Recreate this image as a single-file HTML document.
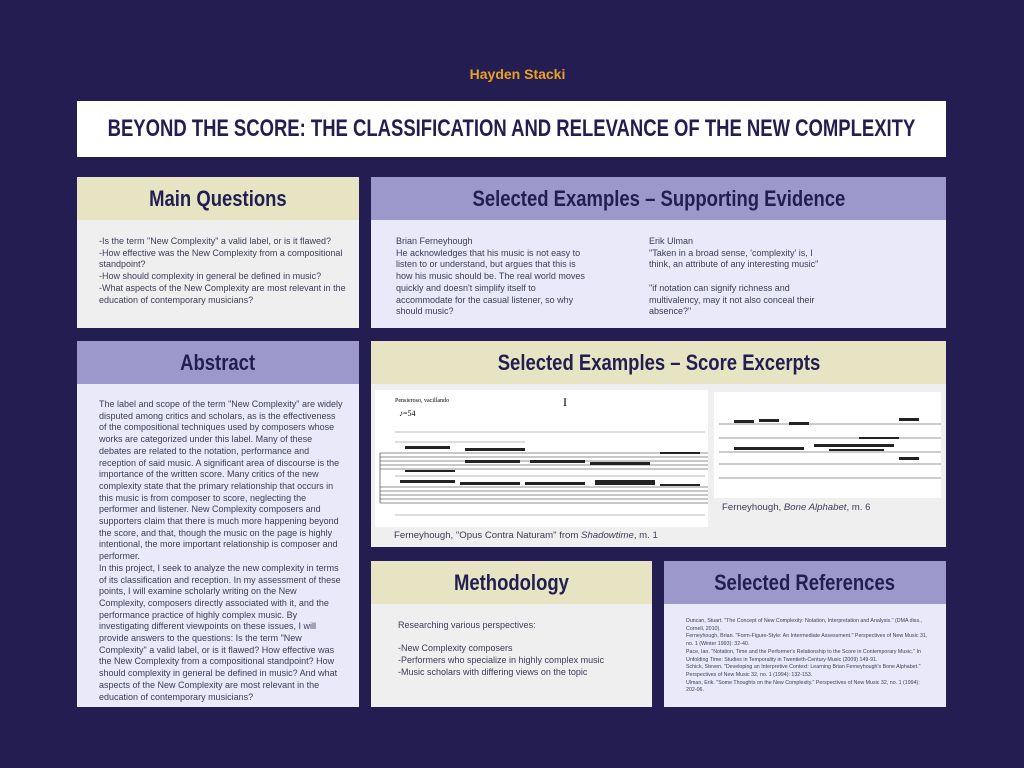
<!DOCTYPE html>
<html><head><meta charset="utf-8"><style>
*{margin:0;padding:0;box-sizing:border-box}
body{width:1024px;height:768px;background:#231d52;position:relative;overflow:hidden;font-family:"Liberation Sans",sans-serif;color:#3a3a55}
.a{position:absolute}
.h{position:absolute;display:flex;align-items:center;justify-content:center;font-family:"Liberation Sans",sans-serif;font-weight:bold;color:#231d52;font-size:22px;white-space:nowrap}
.h span{display:inline-block;transform:scaleX(0.84)}
.beige{background:#e6e4c3}.purp{background:#9d98cc}
.gray{background:#efefef}.lav{background:#e9e9fa}
.t{position:absolute;font-size:9px;line-height:11.7px;color:#3c3c58}
</style></head><body>
<div class="a" style="left:0;top:66px;width:1035px;text-align:center;color:#e9a21d;font-weight:bold;font-size:14px">Hayden Stacki</div>
<div class="h" style="left:77px;top:101px;width:869px;height:56px;background:#fff;font-size:24px"><span style="transform:scaleX(0.77)">BEYOND THE SCORE: THE CLASSIFICATION AND RELEVANCE OF THE NEW COMPLEXITY</span></div>

<div class="h beige" style="left:77px;top:177px;width:282px;height:43px"><span>Main Questions</span></div>
<div class="a gray" style="left:77px;top:220px;width:282px;height:108px"></div>
<div class="t" style="left:99px;top:236px;width:250px">-Is the term "New Complexity" a valid label, or is it flawed?<br>-How effective was the New Complexity from a compositional standpoint?<br>-How should complexity in general be defined in music?<br>-What aspects of the New Complexity are most relevant in the education of contemporary musicians?</div>

<div class="h purp" style="left:371px;top:177px;width:575px;height:43px"><span>Selected Examples – Supporting Evidence</span></div>
<div class="a lav" style="left:371px;top:220px;width:575px;height:108px"></div>
<div class="t" style="left:396px;top:236px;width:196px">Brian Ferneyhough<br>He acknowledges that his music is not easy to listen to or understand, but argues that this is how his music should be. The real world moves quickly and doesn't simplify itself to accommodate for the casual listener, so why should music?</div>
<div class="t" style="left:649px;top:236px;width:182px">Erik Ulman<br>"Taken in a broad sense, 'complexity' is, I think, an attribute of any interesting music"<br><br>"if notation can signify richness and multivalency, may it not also conceal their absence?"</div>

<div class="h purp" style="left:77px;top:341px;width:282px;height:43px"><span>Abstract</span></div>
<div class="a lav" style="left:77px;top:384px;width:282px;height:323px"></div>
<div class="t" style="left:99px;top:399px;width:246px">The label and scope of the term "New Complexity" are widely disputed among critics and scholars, as is the effectiveness of the compositional techniques used by composers whose works are categorized under this label. Many of these debates are related to the notation, performance and reception of said music. A significant area of discourse is the importance of the written score. Many critics of the new complexity state that the primary relationship that occurs in this music is from composer to score, neglecting the performer and listener. New Complexity composers and supporters claim that there is much more happening beyond the score, and that, though the music on the page is highly intentional, the more important relationship is composer and performer.<br>In this project, I seek to analyze the new complexity in terms of its classification and reception. In my assessment of these points, I will examine scholarly writing on the New Complexity, composers directly associated with it, and the performance practice of highly complex music. By investigating different viewpoints on these issues, I will provide answers to the questions: Is the term "New Complexity" a valid label, or is it flawed? How effective was the New Complexity from a compositional standpoint? How should complexity in general be defined in music? And what aspects of the New Complexity are most relevant in the education of contemporary musicians?</div>

<div class="h beige" style="left:371px;top:341px;width:575px;height:43px"><span>Selected Examples – Score Excerpts</span></div>
<div class="a gray" style="left:371px;top:384px;width:575px;height:163px"></div>
<svg class="a" style="left:375px;top:390px" width="333" height="137" viewBox="0 0 333 137">
<rect width="333" height="137" fill="#fff"/>
<text x="20" y="12" font-size="6" font-family="Liberation Serif">Pensieroso, vacillando</text>
<text x="188" y="16" font-size="12" font-family="Liberation Serif">I</text>
<text x="24" y="26" font-size="8" font-family="Liberation Serif">♪=54</text>
<g stroke="#222" stroke-width="0.6">
<line x1="5" y1="63" x2="333" y2="63"/><line x1="5" y1="67" x2="333" y2="67"/><line x1="5" y1="71" x2="333" y2="71"/><line x1="5" y1="75" x2="333" y2="75"/><line x1="5" y1="79" x2="333" y2="79"/>
<line x1="5" y1="97" x2="333" y2="97"/><line x1="5" y1="101" x2="333" y2="101"/><line x1="5" y1="105" x2="333" y2="105"/><line x1="5" y1="109" x2="333" y2="109"/><line x1="5" y1="113" x2="333" y2="113"/>
<line x1="5" y1="63" x2="5" y2="113"/>
</g>
<g fill="#222">
<rect x="30" y="56" width="45" height="3"/><rect x="90" y="58" width="60" height="3"/><rect x="155" y="70" width="55" height="3"/><rect x="215" y="72" width="60" height="3"/><rect x="285" y="62" width="40" height="2"/>
<rect x="30" y="80" width="50" height="2"/><rect x="90" y="70" width="55" height="3"/>
<rect x="25" y="90" width="55" height="3"/><rect x="85" y="92" width="60" height="3"/><rect x="150" y="92" width="60" height="3"/><rect x="220" y="90" width="60" height="5"/><rect x="285" y="94" width="40" height="2"/>
</g>
<g stroke="#555" stroke-width="0.4" fill="none"><line x1="20" y1="42" x2="330" y2="42"/><line x1="20" y1="52" x2="150" y2="52"/><line x1="20" y1="86" x2="330" y2="86"/><line x1="20" y1="125" x2="330" y2="125"/></g>
</svg>
<svg class="a" style="left:714px;top:392px" width="227" height="106" viewBox="0 0 227 106">
<rect width="227" height="106" fill="#fff"/>
<g stroke="#333" stroke-width="0.6">
<line x1="5" y1="32" x2="227" y2="32"/><line x1="5" y1="46" x2="227" y2="46"/><line x1="5" y1="60" x2="227" y2="60"/><line x1="5" y1="72" x2="227" y2="72"/><line x1="5" y1="86" x2="227" y2="86"/>
</g>
<g fill="#222"><rect x="20" y="28" width="20" height="3"/><rect x="45" y="27" width="20" height="3"/><rect x="75" y="30" width="20" height="3"/><rect x="185" y="26" width="20" height="3"/><rect x="185" y="65" width="20" height="3"/><rect x="100" y="52" width="80" height="3"/><rect x="20" y="55" width="70" height="3"/><rect x="115" y="57" width="55" height="2"/><rect x="145" y="45" width="40" height="2"/></g>
</svg>
<div class="t" style="left:394px;top:530px;font-size:9.6px">Ferneyhough, "Opus Contra Naturam" from <i>Shadowtime</i>, m. 1</div>
<div class="t" style="left:722px;top:502px;font-size:9.6px">Ferneyhough, <i>Bone Alphabet</i>, m. 6</div>

<div class="h beige" style="left:371px;top:561px;width:281px;height:43px"><span>Methodology</span></div>
<div class="a gray" style="left:371px;top:604px;width:281px;height:103px"></div>
<div class="t" style="left:398px;top:620px;width:250px">Researching various perspectives:<br><br>-New Complexity composers<br>-Performers who specialize in highly complex music<br>-Music scholars with differing views on the topic</div>

<div class="h purp" style="left:664px;top:561px;width:282px;height:43px"><span>Selected References</span></div>
<div class="a lav" style="left:664px;top:604px;width:282px;height:103px"></div>
<div class="t" style="left:686px;top:618px;width:245px;font-size:5.3px;line-height:7.7px">Duncan, Stuart. "The Concept of New Complexity: Notation, Interpretation and Analysis." (DMA diss., Cornell, 2010).<br>Ferneyhough, Brian. "Form-Figure-Style: An Intermediate Assessment." Perspectives of New Music 31, no. 1 (Winter 1993): 32-40.<br>Pace, Ian. "Notation, Time and the Performer's Relationship to the Score in Contemporary Music." In Unfolding Time: Studies in Temporality in Twentieth-Century Music (2009) 149-91.<br>Schick, Steven. "Developing an Interpretive Context: Learning Brian Ferneyhough's Bone Alphabet." Perspectives of New Music 32, no. 1 (1994): 132-153.<br>Ulman, Erik. "Some Thoughts on the New Complexity." Perspectives of New Music 32, no. 1 (1994): 202-06.</div>
</body></html>
